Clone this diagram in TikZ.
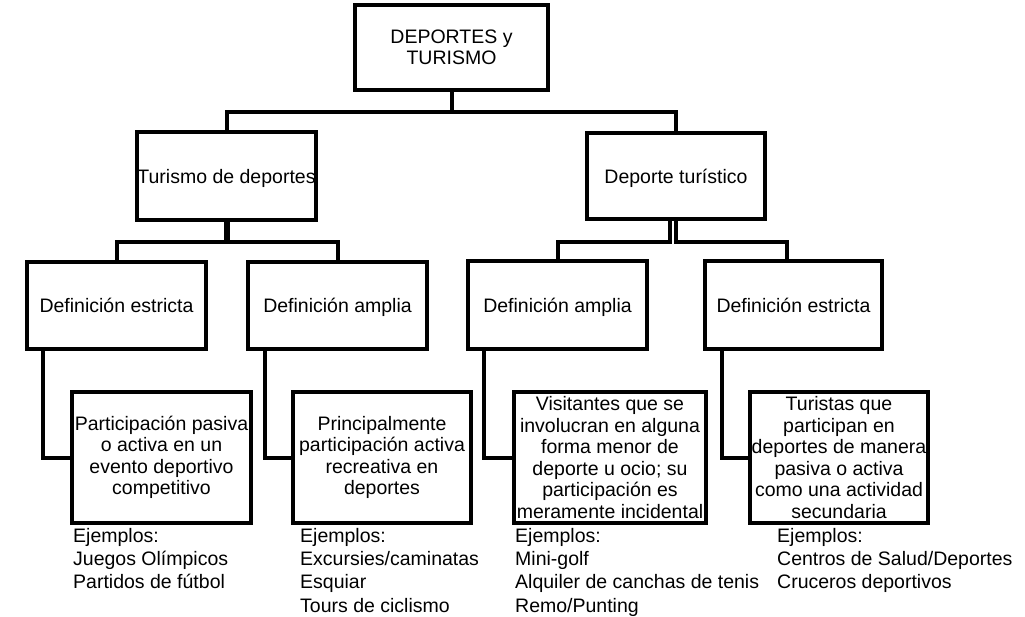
\documentclass[tikz,border=0pt]{standalone}
\usepackage{fontspec}
\setmainfont{Liberation Sans}
\begin{document}
\begin{tikzpicture}[x=1pt,y=-1pt,
  box/.style={draw, line width=4pt, rectangle, inner sep=0pt, align=center,
    font=\fontsize{19.5}{21.5}\selectfont},
  onel/.style={text height=17pt, text depth=2.5pt},
  conn/.style={line width=4pt},
  lbl/.style={anchor=north west, inner sep=0pt, align=left,
    font=\fontsize{19.5}{23.3}\selectfont}]
\useasboundingbox (0,0) rectangle (1025,617);
% boxes
\node[box, minimum width=193pt, minimum height=85pt] (top) at (451.5,47.5) {DEPORTES y\\TURISMO};
\node[box, onel, minimum width=179pt, minimum height=88pt] (td) at (226.5,176) {Turismo de deportes};
\node[box, onel, minimum width=178pt, minimum height=86pt] (dt) at (676,176) {Deporte turístico};
\node[box, onel, minimum width=179pt, minimum height=87pt] (de1) at (116.5,305.5) {Definición estricta};
\node[box, onel, minimum width=179pt, minimum height=87pt] (da1) at (337.5,305.5) {Definición amplia};
\node[box, onel, minimum width=179pt, minimum height=88pt] (da2) at (557.5,305) {Definición amplia};
\node[box, onel, minimum width=177pt, minimum height=88pt] (de2) at (793.5,305) {Definición estricta};
\node[box, minimum width=179pt, minimum height=131pt] (p1) at (161.5,457.5)
  {Participación pasiva\\o activa en un\\evento deportivo\\competitivo};
\node[box, minimum width=178pt, minimum height=131pt] (p2) at (382,457.5)
  {Principalmente\\participación activa\\recreativa en\\deportes};
\node[box, minimum width=192pt, minimum height=131pt] (p3) at (610,457.5)
  {Visitantes que se\\involucran en alguna\\forma menor de\\deporte u ocio; su\\participación es\\meramente incidental};
\node[box, minimum width=178pt, minimum height=131pt] (p4) at (839,457.5)
  {Turistas que\\participan en\\deportes de manera\\pasiva o activa\\como una actividad\\secundaria};
% example lists
\node[lbl] (e1) at (73,528) {Ejemplos:\\Juegos Olímpicos\\Partidos de fútbol};
\node[lbl] (e2) at (300,528) {Ejemplos:\\Excursies/caminatas\\Esquiar\\Tours de ciclismo};
\node[lbl] (e3) at (515,528) {Ejemplos:\\Mini-golf\\Alquiler de canchas de tenis\\Remo/Punting};
\node[lbl] (e4) at (777,528) {Ejemplos:\\Centros de Salud/Deportes\\Cruceros deportivos};
% junctions
\coordinate (j0) at (451.5,112);
\coordinate (jL) at (228,242);
\coordinate (dtL) at (669.5,242);
\coordinate (dtR) at (676,242);
% connectors
\draw[conn] (top.south) -- (j0);
\draw[conn] (td.north) |- (j0) -| (dt.north);
\draw[line width=6pt] (td.south) -- (td.south |- jL);
\draw[conn] (de1.north) |- (jL) -| (da1.north);
\draw[conn] (dt.south -| dtL) -- (dtL) -| (da2.north);
\draw[conn] (dt.south -| dtR) -- (dtR) -| ([xshift=-6.5pt]de2.north);
\draw[conn] ([xshift=-73.5pt]de1.south) |- (p1.west);
\draw[conn] ([xshift=-72.5pt]da1.south) |- (p2.west);
\draw[conn] ([xshift=-73.5pt]da2.south) |- (p3.west);
\draw[conn] ([xshift=-71.5pt]de2.south) |- (p4.west);
\end{tikzpicture}
\end{document}
